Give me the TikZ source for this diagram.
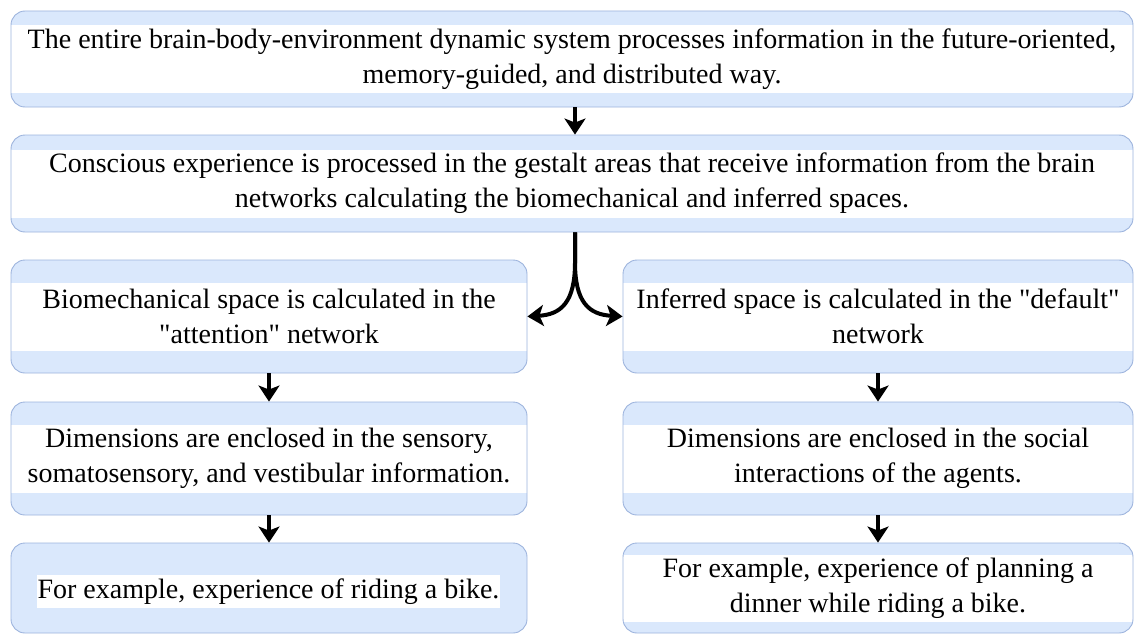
\documentclass[tikz,border=0pt]{standalone}
\usepackage{fontspec}
\setmainfont{Liberation Serif}[Ligatures=TeXOff]
\usetikzlibrary{arrows.meta,calc}
\definecolor{bfill}{HTML}{DAE8FC}
\definecolor{bline}{HTML}{9DB4DD}
\begin{document}
\begin{tikzpicture}[x=1pt,y=-1pt,
  box/.style={draw=bline, line width=0.9pt, fill=bfill, rounded corners=14pt,
    inner sep=0pt, align=center, font=\fontsize{28}{35}\selectfont},
  band/.style={path picture={\fill[white, sharp corners]
      ($(path picture bounding box.west)+(-2,#1)$) rectangle
      ($(path picture bounding box.east)+(2,-#1)$);}},
  arr/.style={line width=4pt, -{Stealth[length=16pt,width=21pt,inset=4pt]}},
  hl/.style={fill=white, inner xsep=1pt, inner ysep=0pt, minimum height=33pt,
    font=\fontsize{28}{35}\selectfont}]
\useasboundingbox (0,0) rectangle (1134,634);

\node[box, band=34, minimum width=1122pt, minimum height=96pt] (b1) at (572,59)
  {\raisebox{3pt}{\begin{tabular}{@{}c@{}}The entire brain-body-environment dynamic system processes information in the future-oriented,\\
   memory-guided, and distributed way.\end{tabular}}};
\node[box, band=34, minimum width=1122pt, minimum height=97pt] (b2) at (572,183.5)
  {Conscious experience is processed in the gestalt areas that receive information from the brain\\
   networks calculating the biomechanical and inferred spaces.};

\node[box, band=34, minimum width=516pt, minimum height=113pt] (l1) at (269,316.5)
  {Biomechanical space is calculated in the\\ "attention" network};
\node[box, band=34, minimum width=510pt, minimum height=113pt] (r1) at (878,316.5)
  {Inferred space is calculated in the "default"\\ network};

\node[box, band=34, minimum width=516pt, minimum height=113pt] (l2) at (269,458.5)
  {Dimensions are enclosed in the sensory,\\ somatosensory, and vestibular information.};
\node[box, band=34, minimum width=510pt, minimum height=113pt] (r2) at (878,458.5)
  {Dimensions are enclosed in the social\\ interactions of the agents.};

\node[box, minimum width=516pt, minimum height=90pt] (l3) at (269,588) {};
\node[hl] (l3t) at (268.5,591.5) {For example, experience of riding a bike.};
\node[box, band=33.5, minimum width=510pt, minimum height=90pt] (r3) at (878,588)
  {\raisebox{-3.5pt}{\begin{tabular}{@{}c@{}}For example, experience of planning a\\ dinner while riding a bike.\end{tabular}}};

\coordinate (s1) at ($(b1.south)+(3,0)$);
\coordinate (s2) at ($(b2.south)+(3,0)$);
\draw[arr] (s1) -- (s1 |- b2.north);
\draw[arr] (s2) -- ++(0,30) .. controls ($(s2)+(0,70)$) and ($(s2)+(-14,82)$) .. (l1.east);
\draw[arr] (s2) -- ++(0,30) .. controls ($(s2)+(0,70)$) and ($(s2)+(14,82)$) .. (r1.west);
\draw[arr] (l1.south) -- (l2.north);
\draw[arr] (l2.south) -- (l3.north);
\draw[arr] (r1.south) -- (r2.north);
\draw[arr] (r2.south) -- (r3.north);
\end{tikzpicture}
\end{document}
